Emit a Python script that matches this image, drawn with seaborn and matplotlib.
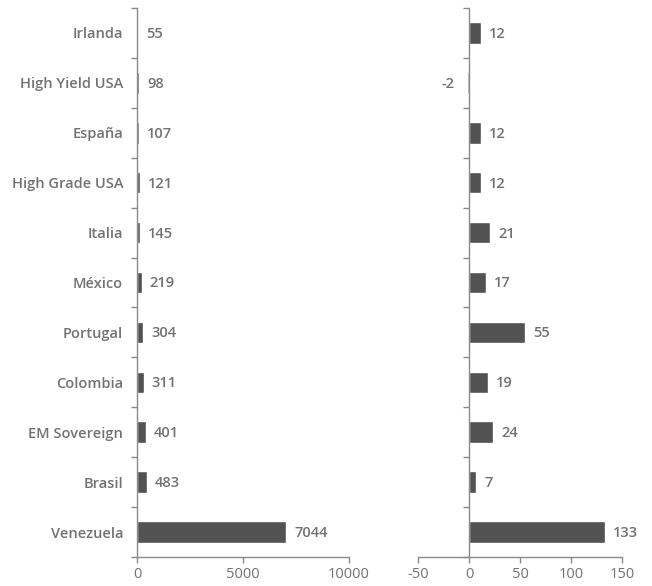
import matplotlib
matplotlib.use("Agg")
import matplotlib.pyplot as plt
import seaborn as sns
import pandas as pd
import numpy as np

categories = ["Irlanda", "High Yield USA", "España", "High Grade USA", "Italia",
              "México", "Portugal", "Colombia", "EM Sovereign", "Brasil", "Venezuela"]
left_values = [55, 98, 107, 121, 145, 219, 304, 311, 401, 483, 7044]
right_values = [12, -2, 12, 12, 21, 17, 55, 19, 24, 7, 133]
left_ticks = [0, 5000, 10000]
right_ticks = [-50, 0, 50, 100, 150]

sns.set_style("white")
plt.rcParams['font.family'] = ['Open Sans', 'DejaVu Sans']

df = pd.DataFrame({"cat": categories, "left": left_values, "right": right_values})

fig = plt.figure(figsize=(6.52, 5.86), dpi=100)
W, H = 652, 586
axL = fig.add_axes([137 / W, 1 - 557 / H, (349 - 137) / W, 549 / H])
axR = fig.add_axes([418 / W, 1 - 557 / H, (622 - 418) / W, 549 / H])

bar_color = "#525252"
text_color = "#727272"
axis_color = "#8a8a8a"

sns.barplot(data=df, y="cat", x="left", ax=axL, color=bar_color, width=0.43,
            orient="h", saturation=1)
sns.barplot(data=df, y="cat", x="right", ax=axR, color=bar_color, width=0.43,
            orient="h", saturation=1)
# lighter negative bar
for p, v in zip(axR.patches, right_values):
    if v < 0:
        p.set_facecolor("#a0a0a0")

for ax, vals, xlim, ticks in [(axL, left_values, (0, 10000), left_ticks),
                              (axR, right_values, (-50, 150), right_ticks)]:
    ax.set_xlim(*xlim)
    ax.set_ylim(10.5, -0.5)
    ax.set_xticks(ticks)
    ax.set_xticklabels([str(t) for t in ticks], color=text_color, fontsize=10.5)
    ax.set_xlabel("")
    ax.set_ylabel("")
    for s in ["top", "right"]:
        ax.spines[s].set_visible(False)
    ax.spines["left"].set_position(("data", 0))
    for s in ["left", "bottom"]:
        ax.spines[s].set_color(axis_color)
        ax.spines[s].set_linewidth(1.0)
    ax.set_yticks(np.arange(-0.5, 11, 1.0), minor=True)
    ax.tick_params(axis="y", which="minor", length=4, color=axis_color, width=1, direction="out", left=True)
    ax.tick_params(axis="y", which="major", length=0)
    ax.tick_params(axis="x", length=4, color=axis_color, width=1, direction="out", bottom=True, pad=3)
    for i, v in enumerate(vals):
        if v >= 0:
            ax.annotate(str(v), xy=(v, i), xytext=(8, -1), textcoords="offset pixels",
                        ha="left", va="center", fontsize=10.5, color=text_color,
                        fontweight="semibold")
        else:
            ax.annotate(str(v), xy=(v, i), xytext=(-12, -1), textcoords="offset pixels",
                        ha="right", va="center", fontsize=10.5, color=text_color,
                        fontweight="semibold")

axL.set_yticks(range(len(categories)))
axL.set_yticklabels(categories, color=text_color, fontsize=10.5, fontweight="semibold")
axL.tick_params(axis="y", which="major", pad=10)
axR.set_yticks(range(len(categories)))
axR.set_yticklabels([])

fig.savefig("out.png", dpi=100)
